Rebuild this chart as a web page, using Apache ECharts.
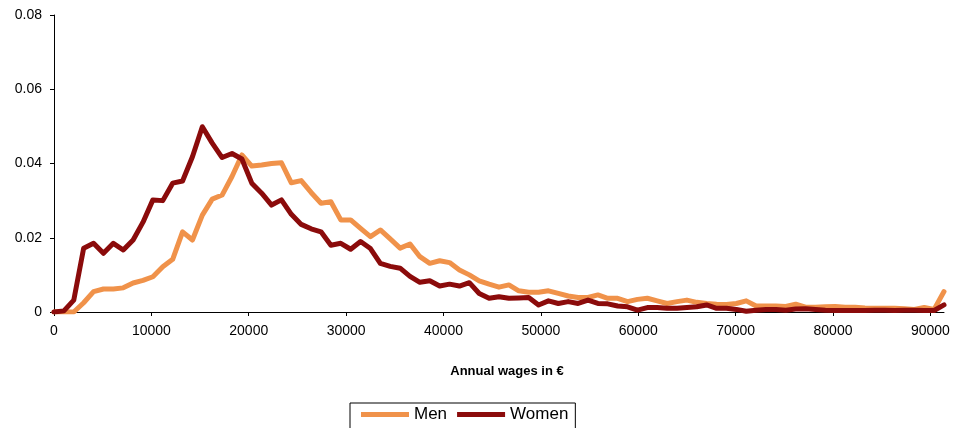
<!DOCTYPE html>
<html>
<head>
<meta charset="utf-8">
<script src="https://cdn.jsdelivr.net/npm/echarts@6/dist/echarts.min.js"></script>
<style>
  html, body { margin: 0; padding: 0; background: #fff; }
  #chart { width: 958px; height: 428px; }
</style>
</head>
<body>
<div id="chart"></div>
<script>
// wage bins (1000 € steps), one point per bin
var bins = [];
for (var i = 0; i <= 90; i++) { bins.push(String(i * 1000)); }

var men = [0, 0, 0, 0.0025, 0.0055, 0.0062, 0.0062, 0.0065, 0.0078, 0.0085,
  0.0095, 0.0122, 0.0142, 0.0216, 0.0194, 0.0261, 0.0304, 0.0315, 0.0365, 0.0423,
  0.0393, 0.0396, 0.0400, 0.0402, 0.0348, 0.0354, 0.0322, 0.0293, 0.0297, 0.0248,
  0.0248, 0.0225, 0.0203, 0.0221, 0.0197, 0.0172, 0.0183, 0.0149, 0.0131, 0.0138,
  0.0133, 0.0113, 0.0100, 0.0084, 0.0075, 0.0067, 0.0073, 0.0057, 0.0053, 0.0053,
  0.0057, 0.0050, 0.0043, 0.0039, 0.0039, 0.0046, 0.0037, 0.0037, 0.0028, 0.0034,
  0.0037, 0.0030, 0.0023, 0.0028, 0.0032, 0.0026, 0.0023, 0.0021, 0.0020, 0.0023,
  0.0030, 0.0016, 0.0016, 0.0016, 0.0015, 0.0021, 0.0013, 0.0013, 0.0014, 0.0015,
  0.0013, 0.0013, 0.0011, 0.0010, 0.0010, 0.0010, 0.0009, 0.0007, 0.0012, 0.0007,
  0.0055];

var women = [0, 0.0003, 0.0032, 0.0172, 0.0185, 0.0158, 0.0185, 0.0167, 0.0194, 0.0242,
  0.0302, 0.0300, 0.0347, 0.0353, 0.0418, 0.0499, 0.0455, 0.0416, 0.0427, 0.0412,
  0.0347, 0.0320, 0.0288, 0.0302, 0.0263, 0.0236, 0.0224, 0.0216, 0.0180, 0.0185,
  0.0169, 0.0190, 0.0171, 0.0131, 0.0123, 0.0118, 0.0096, 0.0080, 0.0084, 0.0070,
  0.0075, 0.0070, 0.0079, 0.0050, 0.0037, 0.0041, 0.0037, 0.0038, 0.0039, 0.0019,
  0.0030, 0.0023, 0.0028, 0.0023, 0.0032, 0.0023, 0.0022, 0.0016, 0.0014, 0.0005,
  0.0012, 0.0012, 0.0010, 0.0010, 0.0012, 0.0014, 0.0019, 0.0010, 0.0010, 0.0007,
  0.0002, 0.0005, 0.0007, 0.0007, 0.0005, 0.0008, 0.0009, 0.0007, 0.0005, 0.0004,
  0.0004, 0.0004, 0.0004, 0.0005, 0.0005, 0.0004, 0.0005, 0.0005, 0.0004, 0.0004,
  0.0019];

var xTicks = [0, 10000, 20000, 30000, 40000, 50000, 60000, 70000, 80000, 90000];
var yTicks = [0, 0.02, 0.04, 0.06, 0.08];

var font = 'Liberation Sans, Arial, sans-serif';

var option = {
    animation: false,
    backgroundColor: '#fff',
    color: ['#F0924A', '#8B0B0B'],
    grid: {
        left: 54,
        right: 14,
        top: 15,
        bottom: 116
    },
    legend: {
        left: 350,
        top: 403,
        data: ['Men', 'Women'],
        icon: 'rect',
        itemWidth: 48,
        itemHeight: 5,
        itemGap: 10,
        padding: [3, 7, 6, 11],
        borderColor: '#000',
        borderWidth: 1,
        borderRadius: 0,
        textStyle: { fontFamily: font, fontSize: 17, color: '#000' }
    },
    graphic: [{
        type: 'text',
        x: 507,
        y: 371,
        style: {
            text: 'Annual wages in €',
            fontFamily: font,
            fontSize: 13,
            fontWeight: 'bold',
            fill: '#000',
            textAlign: 'center',
            textVerticalAlign: 'middle'
        }
    }],
    xAxis: [
        {
            type: 'value',
            min: 0,
            max: 91400,
            splitLine: { show: false },
            axisLine: { lineStyle: { color: '#000', width: 1 } },
            axisTick: { length: 4, lineStyle: { color: '#000' }, customValues: xTicks },
            axisLabel: {
                margin: 12, color: '#000', fontFamily: font, fontSize: 14,
                customValues: xTicks,
                formatter: function (v) { return String(v); }
            }
        },
        {
            type: 'category',
            show: false,
            boundaryGap: false,
            data: bins
        }
    ],
    yAxis: {
        type: 'value',
        min: 0,
        max: 0.08,
        interval: 0.02,
        splitLine: { show: false },
        axisLine: { show: true, lineStyle: { color: '#000', width: 1 } },
        axisTick: { show: true, length: 4, lineStyle: { color: '#000' } },
        axisLabel: {
            margin: 12, color: '#000', fontFamily: font, fontSize: 14,
            formatter: function (v) {
                for (var k = 0; k < yTicks.length; k++) {
                    if (Math.abs(v - yTicks[k]) < 1e-9) return String(yTicks[k]);
                }
                return '';
            }
        }
    },
    series: [
        {
            name: 'Men',
            type: 'line',
            xAxisIndex: 1,
            symbol: 'none',
            data: men,
            lineStyle: { width: 5, cap: 'round', join: 'round' }
        },
        {
            name: 'Women',
            type: 'line',
            xAxisIndex: 1,
            symbol: 'none',
            data: women,
            lineStyle: { width: 5, cap: 'round', join: 'round' }
        }
    ]
};

var chart = echarts.init(document.getElementById('chart'));
chart.setOption(option);
</script>
</body>
</html>
